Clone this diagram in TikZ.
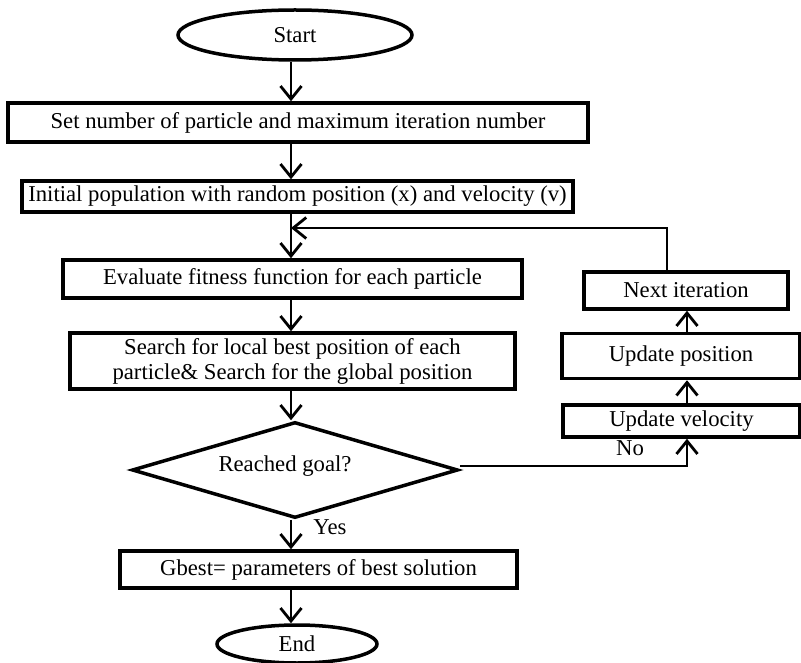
\documentclass[tikz,border=0pt]{standalone}
\usepackage{fontspec}
\setmainfont{Liberation Serif}
\usetikzlibrary{shapes.geometric,arrows.meta}
\begin{document}
\begin{tikzpicture}[x=1pt,y=-1pt,
  every node/.style={font=\fontsize{22.7}{25}\selectfont, inner sep=0pt},
  box/.style={draw, line width=3.5pt, rectangle, align=center},
  term/.style={draw, line width=3.5pt, ellipse},
  decision/.style={draw, line width=3.5pt, diamond},
  arr/.style={line width=2.8pt, -{Straight Barb[length=13pt,width=21pt,line width=2.8pt]}},
  lbl/.style={font=\fontsize{22.7}{25}\selectfont}]
\useasboundingbox (0,0) rectangle (801,663);
\coordinate (col) at (291,0);
\node[term, minimum width=234pt, minimum height=50pt] (start) at (295,35) {Start};
\node[box, minimum width=580pt, minimum height=39pt] (b1) at (298,122.5) {Set number of particle and maximum iteration number};
\node[box, minimum width=551pt, minimum height=31pt] (b2) at (297.5,196.5) {Initial population with random position (x) and velocity (v)};
\node[box, minimum width=459pt, minimum height=38pt] (b3) at (292.5,279) {Evaluate fitness function for each particle};
\node[box, minimum width=445pt, minimum height=56pt] (b4) at (292.5,361) {Search for local best position of each\\particle\& Search for the global position};
\node[decision, minimum width=326pt, minimum height=96pt] (d) at (295,470) {};
\node (dt) at (285,466) {Reached goal?};
\node[box, minimum width=397pt, minimum height=37pt] (b5) at (318.5,569.5) {Gbest= parameters of best solution};
\node[term, minimum width=160pt, minimum height=38pt] (end) at (297,644) {End};
\node[box, minimum width=204pt, minimum height=37pt] (n1) at (686,290.5) {Next iteration};
\node[box, minimum width=238pt, minimum height=45pt] (n2) at (681,356) {Update position};
\node[box, minimum width=237pt, minimum height=32pt] (n3) at (681.5,421) {Update velocity};
\coordinate (rc) at (687,466);
\coordinate (loop) at (667,228);
\draw[arr] (start.south -| col) -- (b1.north -| col);
\draw[arr] (b1.south -| col) -- (b2.north -| col);
\draw[arr] (b2.south -| col) -- (b3.north -| col);
\draw[arr] (b3.south -| col) -- (b4.north -| col);
\draw[arr] (b4.south -| col) -- (d.north -| col);
\draw[arr] (d.south -| col) -- (b5.north -| col);
\draw[arr] (b5.south -| col) -- (end.north -| col);
\draw[arr] (d.east |- rc) -- (rc) -- (n3.south -| rc);
\draw[arr] (n3.north -| rc) -- (n2.south -| rc);
\draw[arr] (n2.north -| rc) -- (n1.south -| rc);
\draw[arr] (n1.north -| loop) -- (loop) -- (loop -| col);
\node[lbl] (no) at (630,448) {No};
\node[lbl] (yes) at (330,527) {Yes};
\end{tikzpicture}
\end{document}
